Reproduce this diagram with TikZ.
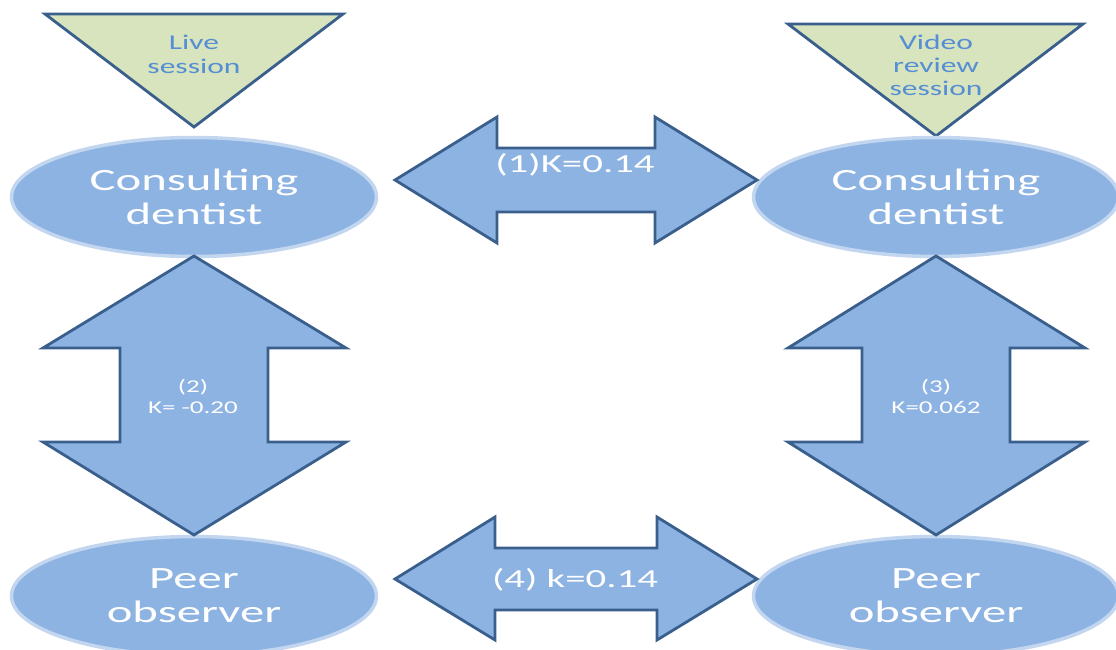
\documentclass[tikz,border=0pt]{standalone}
\usepackage{fontspec}
\setmainfont{Carlito}
\usetikzlibrary{shapes.geometric}
\definecolor{fillblue}{HTML}{8DB3E2}
\definecolor{edgeblue}{HTML}{3A5F8C}
\definecolor{glowblue}{HTML}{C3D6EF}
\definecolor{trigreen}{HTML}{D7E4BD}
\definecolor{tritext}{HTML}{558ED5}
\newcommand{\wide}[1]{\scalebox{1.5}[1]{#1}}
\newcommand{\wider}[1]{\scalebox{1.57}[1]{#1}}
\begin{document}
\begin{tikzpicture}[x=1pt,y=-1pt,
  ell/.style={ellipse, fill=fillblue, draw=glowblue, line width=3.5pt,
    minimum width=365pt, minimum height=119pt, inner sep=0pt,
    text=white, align=center, font=\fontsize{31}{34}\selectfont},
  blockarrow/.style={fill=fillblue, draw=edgeblue, line width=2.8pt, line join=miter},
  tri/.style={fill=trigreen, draw=edgeblue, line width=2.8pt, line join=miter},
  tritxt/.style={text=tritext, align=center, inner sep=0pt, font=\fontsize{21}{24}\selectfont},
  biglbl/.style={text=white, inner sep=0pt, font=\fontsize{26}{28}\selectfont},
  smalllbl/.style={text=white, align=center, inner sep=0pt, font=\fontsize{18}{21}\selectfont}]
\useasboundingbox (0,0) rectangle (1116,650);

% triangles
\coordinate (tlA) at (45,14); \coordinate (tlB) at (343,14); \coordinate (tlC) at (194,127);
\draw[tri] (tlA) -- (tlB) -- (tlC) -- cycle;
\coordinate (trA) at (788,24); \coordinate (trB) at (1083,24); \coordinate (trC) at (936,136);
\draw[tri] (trA) -- (trB) -- (trC) -- cycle;
\node[tritxt] (live) at (194,54) {\wide{Live}\\\wide{session}};
\node[tritxt,font=\fontsize{21}{23}\selectfont] (video) at (936,65) {\wide{Video}\\\wide{review}\\\wide{session}};

% ellipses
\node[ell] (cdL) at (194,197) {\wider{Consulting}\\\wider{dentist}};
\node[ell] (cdR) at (936,197) {\wider{Consulting}\\\wider{dentist}};
\node[ell] (poL) at (194,596) {\wider{Peer}\\\wider{observer}};
\node[ell] (poR) at (936,596) {\wider{Peer}\\\wider{observer}};

% top horizontal double arrow
\draw[blockarrow] (395,180) -- (497,117) -- (497,148) -- (655,148) -- (655,117) -- (757,180)
  -- (655,243) -- (655,212) -- (497,212) -- (497,243) -- cycle;
\node[biglbl] (k1) at (575,165) {\wider{(1)K=0.14}};

% bottom horizontal double arrow
\draw[blockarrow] (395,579) -- (495,517) -- (495,548) -- (657,548) -- (657,517) -- (757,579)
  -- (657,640) -- (657,610) -- (495,610) -- (495,640) -- cycle;
\node[biglbl] (k4) at (575,580) {\wider{(4) k=0.14}};

% left vertical double arrow
\draw[blockarrow] (194,256) -- (346,348) -- (268,348) -- (268,442) -- (346,442) -- (194,535)
  -- (43,442) -- (120,442) -- (120,348) -- (43,348) -- cycle;
\node[smalllbl] (k2) at (193,396) {\wide{(2)}\\\wide{K= -0.20}};

% right vertical double arrow
\draw[blockarrow] (936,256) -- (1085,348) -- (1010,348) -- (1010,442) -- (1085,442) -- (936,535)
  -- (788,442) -- (862,442) -- (862,348) -- (788,348) -- cycle;
\node[smalllbl] (k3) at (936,396) {\wide{(3)}\\\wide{K=0.062}};
\end{tikzpicture}
\end{document}
